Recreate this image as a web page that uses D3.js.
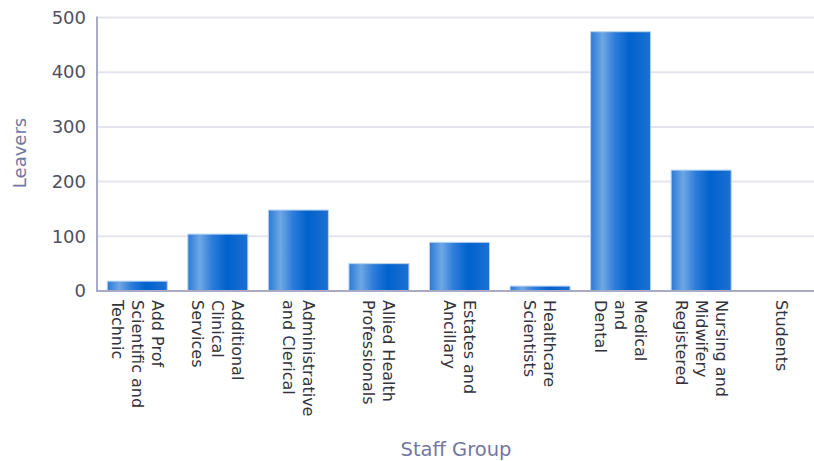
<!DOCTYPE html>
<html>
<head>
<meta charset="utf-8">
<script src="https://cdn.jsdelivr.net/npm/d3@7"></script>
<style>
  html, body { margin: 0; padding: 0; background: #fff; }
  svg { display: block; font-family: "DejaVu Sans", Verdana, sans-serif; }
</style>
</head>
<body>
<svg id="chart" width="814" height="461"></svg>
<script>
// Leavers by staff group
const categories = [
  "Add Prof Scientific and Technic",
  "Additional Clinical Services",
  "Administrative and Clerical",
  "Allied Health Professionals",
  "Estates and Ancillary",
  "Healthcare Scientists",
  "Medical and Dental",
  "Nursing and Midwifery Registered",
  "Students"
];
// wrapped label lines for each category
const labelLines = [
  ["Add Prof", "Scientific and", "Technic"],
  ["Additional", "Clinical", "Services"],
  ["Administrative", "and Clerical"],
  ["Allied Health", "Professionals"],
  ["Estates and", "Ancillary"],
  ["Healthcare", "Scientists"],
  ["Medical", "and", "Dental"],
  ["Nursing and", "Midwifery", "Registered"],
  ["Students"]
];
const leavers = [18, 104, 148, 50, 89, 9, 474, 221, 0];
const yTicks = [0, 100, 200, 300, 400, 500];
const yTitle = "Leavers";
const xTitle = "Staff Group";

const svg = d3.select("#chart");
const W = 814;
const plot = { left: 97, top: 17.5, bottom: 291, right: 822 };

const x = d3.scaleBand()
  .domain(categories)
  .range([plot.left, plot.right])
  .paddingInner(0.255)
  .paddingOuter(0.1275);

const y = d3.scaleLinear()
  .domain([0, 500])
  .range([plot.bottom, plot.top]);

// bar gradient
const defs = svg.append("defs");
const grad = defs.append("linearGradient")
  .attr("id", "barGrad")
  .attr("x1", "0%").attr("x2", "100%").attr("y1", "0%").attr("y2", "0%");
[
  [0, "#2a7ad6"],
  [0.2, "#6ea7e5"],
  [0.4, "#2f7ddb"],
  [0.65, "#0062cd"],
  [1, "#1d70d2"]
].forEach(([o, c]) => grad.append("stop").attr("offset", o).attr("stop-color", c));

// gridlines
svg.append("g")
  .selectAll("line")
  .data(yTicks.filter(d => d > 0))
  .join("line")
  .attr("x1", plot.left).attr("x2", W)
  .attr("y1", d => y(d)).attr("y2", d => y(d))
  .attr("stroke", "#e4e4ee")
  .attr("stroke-width", 2);

// bars
svg.append("g")
  .selectAll("rect")
  .data(leavers.map((v, i) => ({ cat: categories[i], v })).filter(d => d.v > 0))
  .join("rect")
  .attr("x", d => x(d.cat))
  .attr("y", d => y(d.v))
  .attr("width", x.bandwidth())
  .attr("height", d => y(0) - y(d.v))
  .attr("fill", "url(#barGrad)")
  .attr("stroke", "#b9d3f1")
  .attr("stroke-width", 1);

// y axis
const yAxis = d3.axisLeft(y).tickValues(yTicks).tickSize(0).tickPadding(11);
const gy = svg.append("g")
  .attr("transform", `translate(${plot.left},0)`)
  .call(yAxis);
gy.select(".domain").remove();
gy.selectAll("text")
  .attr("font-size", 18)
  .attr("font-family", "DejaVu Sans, sans-serif")
  .attr("fill", "#50505f");

svg.append("line")
  .attr("x1", plot.left).attr("x2", plot.left)
  .attr("y1", plot.top - 1).attr("y2", plot.bottom)
  .attr("stroke", "#a9abc6").attr("stroke-width", 2);

// x axis
const xAxis = d3.axisBottom(x).tickSize(0).tickFormat(() => "");
const gx = svg.append("g")
  .attr("transform", `translate(0,${plot.bottom})`)
  .call(xAxis);
gx.select(".domain").remove();
svg.append("line")
  .attr("x1", plot.left - 1).attr("x2", W)
  .attr("y1", plot.bottom).attr("y2", plot.bottom)
  .attr("stroke", "#a9abc6").attr("stroke-width", 2);

// rotated category labels
const lineH = 20;
const labels = svg.append("g")
  .selectAll("text")
  .data(categories)
  .join("text")
  .attr("transform", d => `translate(${x(d) + x.bandwidth() / 2},300) rotate(90)`)
  .attr("text-anchor", "start")
  .attr("font-size", 16)
  .attr("fill", "#33333d");
labels.each(function (d, i) {
  const lines = labelLines[i];
  const y0 = 5.6 - (lines.length - 1) * lineH / 2;
  d3.select(this).selectAll("tspan")
    .data(lines)
    .join("tspan")
    .attr("x", 0)
    .attr("y", (l, j) => y0 + j * lineH)
    .text(l => l);
});

// axis titles
svg.append("text")
  .attr("transform", `translate(26,153) rotate(-90)`)
  .attr("text-anchor", "middle")
  .attr("font-size", 18)
  .attr("fill", "#7378a0")
  .text(yTitle);

svg.append("text")
  .attr("x", 456)
  .attr("y", 456)
  .attr("text-anchor", "middle")
  .attr("font-size", 19.5)
  .attr("fill", "#7378a0")
  .text(xTitle);
</script>
</body>
</html>
